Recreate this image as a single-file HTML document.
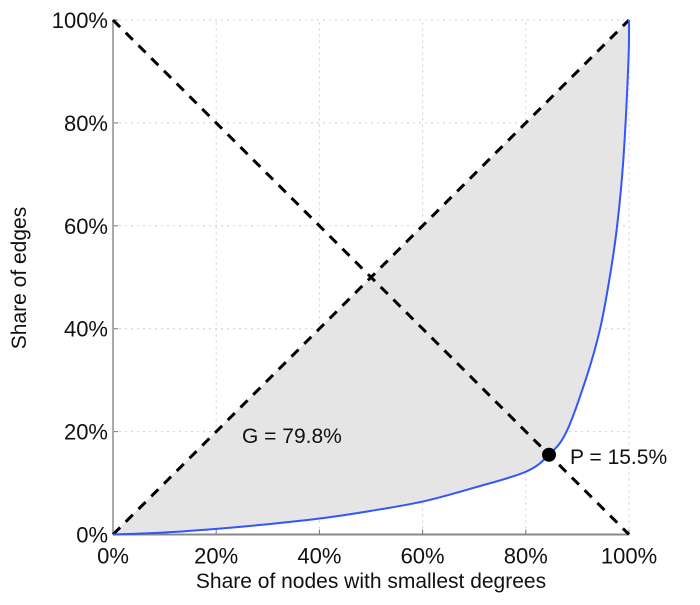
<!DOCTYPE html>
<html><head><meta charset="utf-8"><style>
body{margin:0;background:#fff;font-family:"Liberation Sans",sans-serif}
svg text{font-family:"Liberation Sans",sans-serif;fill:#111}
</style></head><body>
<svg width="700" height="600" viewBox="0 0 700 600">
<g id="grid"></g>
<path id="area" fill="#e5e5e5" stroke="none"/>
<g id="axes"></g>
<line id="diag" stroke="#000" stroke-width="3" stroke-dasharray="10,8"/>
<line id="anti" stroke="#000" stroke-width="3" stroke-dasharray="10,8"/>
<path id="curve" fill="none" stroke="#3355ff" stroke-width="2"/>
<circle id="pt" r="7" fill="#000"/>
<text id="ptlabel" font-size="21">P = 15.5%</text>
<text x="242" y="443" font-size="21">G = 79.8%</text>
<text x="371" y="588" font-size="21" text-anchor="middle">Share of nodes with smallest degrees</text>
<text transform="translate(26,278) rotate(-90)" font-size="21" text-anchor="middle">Share of edges</text>
</svg>
<script>
const xs=[0,10,20,30,40,50,60,70,80,84.5,87.9,91.8,94.4,96.3,97.7,98.9,99.9,100];
const ys=[0,0.4,1.1,2.0,3.1,4.6,6.4,9.1,12.2,15.5,20,30.7,40,50.2,60,72.8,92.2,100];
const ticks=[0,20,40,60,80,100];
const tickLabels=["0%","20%","40%","60%","80%","100%"];
const pointX=84.5, pointY=15.5;
const X=v=>113+v*5.16, Y=v=>534.5-v*5.145;
const NS="http://www.w3.org/2000/svg";
function mk(p,t,a){const e=document.createElementNS(NS,t);for(const k in a)e.setAttribute(k,a[k]);p.appendChild(e);return e;}
const g=document.getElementById('grid'),ax=document.getElementById('axes');
ticks.forEach((t,i)=>{
 if(t>0){const l=mk(g,'line',{x1:X(t),x2:X(t),y1:Y(0),y2:Y(100),stroke:'#ccc','stroke-dasharray':'2,4'});
 
 
 const h=mk(g,'line',{x1:X(0),x2:X(100),y1:Y(t),y2:Y(t),stroke:'#ccc','stroke-dasharray':'2,4'});
 
 }
 const tx=mk(ax,'line',{x1:X(t),x2:X(t),y1:Y(0),y2:Y(0)-5,stroke:'#777'});
 
 
 const ty=mk(ax,'line',{x1:X(0),x2:X(0)+5,y1:Y(t),y2:Y(t),stroke:'#777'});
 
 
 const a=mk(ax,'text',{x:X(t),y:Y(0)+29,'font-size':22,'text-anchor':'middle'});a.textContent=tickLabels[i];
 
 
 const b=mk(ax,'text',{x:X(0)-5,y:Y(t)+8,'font-size':22,'text-anchor':'end'});b.textContent=tickLabels[i];
 
 
});
const xa=mk(ax,'line',{x1:X(0),x2:X(100),y1:Y(0),y2:Y(0),stroke:'#888','stroke-width':2});


const ya=mk(ax,'line',{x1:X(0),x2:X(0),y1:Y(0),y2:Y(100),stroke:'#aaa','stroke-width':2});


const P=xs.map((x,i)=>[X(x),Y(ys[i])]);
let d='M'+P[0][0]+','+P[0][1];
for(let i=0;i<P.length-1;i++){
 const p0=P[Math.max(0,i-1)],p1=P[i],p2=P[i+1],p3=P[Math.min(P.length-1,i+2)];
 const c1=[p1[0]+(p2[0]-p0[0])/6,p1[1]+(p2[1]-p0[1])/6];
 const c2=[p2[0]-(p3[0]-p1[0])/6,p2[1]-(p3[1]-p1[1])/6];
 d+='C'+c1[0]+','+c1[1]+' '+c2[0]+','+c2[1]+' '+p2[0]+','+p2[1];
}
document.getElementById('curve').setAttribute('d',d);
document.getElementById('area').setAttribute('d',d+'Z');
const dg=document.getElementById('diag');dg.setAttribute('x1',X(0));dg.setAttribute('y1',Y(0));dg.setAttribute('x2',X(100));dg.setAttribute('y2',Y(100));
const an=document.getElementById('anti');an.setAttribute('x1',X(0));an.setAttribute('y1',Y(100));an.setAttribute('x2',X(100));an.setAttribute('y2',Y(0));
const p=document.getElementById('pt');p.setAttribute('cx',X(pointX));p.setAttribute('cy',Y(pointY));
const pl=document.getElementById('ptlabel');pl.setAttribute('x',X(pointX)+21);pl.setAttribute('y',Y(pointY)+9);
</script>
</body></html>
